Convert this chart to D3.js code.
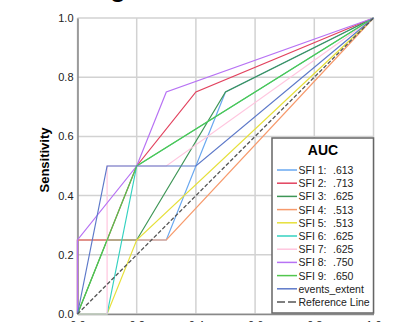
<!DOCTYPE html>
<html>
<head>
<meta charset="utf-8">
<script src="https://cdn.jsdelivr.net/npm/d3@7"></script>
<style>
  html, body { margin: 0; padding: 0; background: #fff; overflow: hidden; }
  svg { display: block; font-family: "Liberation Sans", Arial, sans-serif; }
</style>
</head>
<body>
<div id="roc"></div>
<script>
// ROC curves: [1 - specificity, sensitivity] points per series
var sfi1 = [[0, 0], [0, 0.25], [0.3, 0.25], [0.5, 0.75], [1, 1]];
var sfi2 = [[0, 0], [0, 0.25], [0.1, 0.25], [0.2, 0.5], [0.4, 0.75], [1, 1]];
var sfi3 = [[0, 0], [0.1, 0.25], [0.2, 0.25], [0.5, 0.75], [1, 1]];
var sfi4 = [[0, 0], [0, 0.25], [0.3, 0.25], [1, 1]];
var sfi5 = [[0, 0], [0.1, 0], [0.2, 0.25], [1, 1]];
var sfi6 = [[0, 0], [0.1, 0], [0.2, 0.5], [1, 1]];
var sfi7 = [[0, 0], [0.1, 0], [0.1, 0.5], [0.3, 0.5], [1, 1]];
var sfi8 = [[0, 0], [0, 0.25], [0.2, 0.5], [0.3, 0.75], [1, 1]];
var sfi9 = [[0, 0], [0.2, 0.5], [1, 1]];
var eventsExtent = [[0, 0], [0.1, 0.5], [0.4, 0.5], [1, 1]];
var referenceLine = [[0, 0], [1, 1]];

var seriesNames = ["SFI 1:", "SFI 2:", "SFI 3:", "SFI 4:", "SFI 5:", "SFI 6:", "SFI 7:", "SFI 8:", "SFI 9:", "events_extent", "Reference Line"];
var aucValues = [".613", ".713", ".625", ".513", ".513", ".625", ".625", ".750", ".650", "", ""];
var seriesColors = ["#6aa8f0", "#e2425e", "#3e9656", "#f79a6c", "#e6e03a", "#35d2c0", "#ffc6df", "#b772f4", "#52c64e", "#5d79c9", "#555555"];
var ticks = [0, 0.2, 0.4, 0.6, 0.8, 1.0];

var allSeries = [sfi1, sfi2, sfi3, sfi4, sfi5, sfi6, sfi7, sfi8, sfi9, eventsExtent, referenceLine];

var width = 415, height = 322;
var svg = d3.select("#roc").append("svg").attr("width", width).attr("height", height);

var x = d3.scaleLinear().domain([0, 1]).range([77.5, 373.5]);
var y = d3.scaleLinear().domain([0, 1]).range([314, 18]);

// title, mostly cropped off at the top
svg.append("text")
  .attr("x", 118).attr("y", -3)
  .attr("text-anchor", "middle")
  .attr("font-size", 26).attr("font-weight", "bold")
  .text("g");

// gridlines
svg.append("g").selectAll("line.vg").data(ticks).enter().append("line")
  .attr("x1", function (d) { return x(d); }).attr("x2", function (d) { return x(d); })
  .attr("y1", y(0)).attr("y2", y(1))
  .attr("stroke", "#d2d2d2").attr("stroke-width", 1.5);
svg.append("g").selectAll("line.hg").data(ticks).enter().append("line")
  .attr("y1", function (d) { return y(d); }).attr("y2", function (d) { return y(d); })
  .attr("x1", x(0)).attr("x2", x(1))
  .attr("stroke", "#d2d2d2").attr("stroke-width", 1.5);

// axes
var yAxis = svg.append("g").attr("transform", "translate(" + x(0) + ",0)")
  .call(d3.axisLeft(y).tickValues(ticks).tickFormat(d3.format(".1f")).tickSize(0).tickPadding(4));
var xAxis = svg.append("g").attr("transform", "translate(0," + y(0) + ")")
  .call(d3.axisBottom(x).tickValues(ticks).tickFormat(d3.format(".1f")).tickSize(0).tickPadding(7));
[yAxis, xAxis].forEach(function (a) {
  a.select(".domain").attr("stroke", "#888").attr("stroke-width", 1.5);
  a.selectAll(".tick text").attr("font-size", 11).attr("fill", "#222")
    .attr("font-family", "\"Liberation Sans\", Arial, sans-serif");
});

svg.append("text")
  .attr("transform", "translate(49,160) rotate(-90)")
  .attr("text-anchor", "middle")
  .attr("font-size", 13).attr("font-weight", "bold")
  .text("Sensitivity");

// curves
var line = d3.line()
  .x(function (d) { return x(d[0]); })
  .y(function (d) { return y(d[1]); });

svg.append("g").selectAll("path").data(allSeries).enter().append("path")
  .attr("d", line)
  .attr("fill", "none")
  .attr("stroke", function (d, i) { return seriesColors[i]; })
  .attr("stroke-width", function (d, i) { return i === 10 ? 1.3 : 1.2; })
  .attr("stroke-dasharray", function (d, i) { return i === 10 ? "4,2" : null; });

// legend
var legend = svg.append("g");
legend.append("rect")
  .attr("x", 272).attr("y", 138).attr("width", 101.5).attr("height", 175)
  .attr("fill", "#fff").attr("stroke", "#666").attr("stroke-width", 1.5);
legend.append("text")
  .attr("x", 323).attr("y", 155)
  .attr("text-anchor", "middle")
  .attr("font-size", 14).attr("font-weight", "bold")
  .text("AUC");

var rows = legend.selectAll("g.row").data(seriesNames).enter().append("g")
  .attr("transform", function (d, i) { return "translate(0," + (170 + i * 13.2) + ")"; });
rows.append("line")
  .attr("x1", 277).attr("x2", 297).attr("y1", 0).attr("y2", 0)
  .attr("stroke", function (d, i) { return seriesColors[i]; })
  .attr("stroke-width", 1.5)
  .attr("stroke-dasharray", function (d, i) { return i === 10 ? "8,3" : null; });
rows.append("text")
  .attr("x", 298.5).attr("y", 4)
  .attr("font-size", 10.5).attr("fill", "#222")
  .text(function (d) { return d; });
rows.append("text")
  .attr("x", 333).attr("y", 4)
  .attr("font-size", 10.5).attr("fill", "#222")
  .text(function (d, i) { return aucValues[i]; });
</script>
</body>
</html>
